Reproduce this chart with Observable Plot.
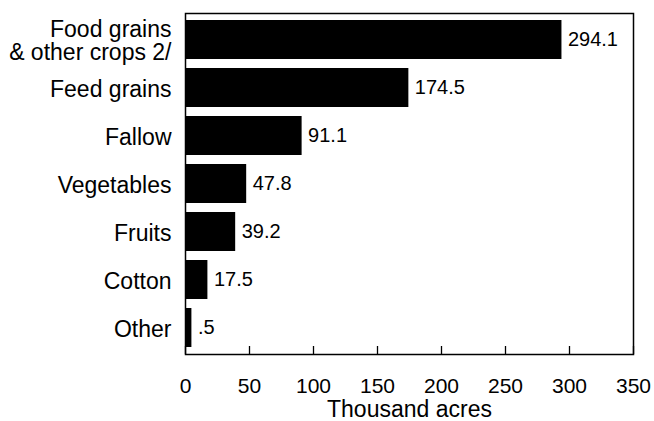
<!DOCTYPE html>
<html><head><meta charset="utf-8">
<script src="https://cdn.jsdelivr.net/npm/d3@7"></script>
<script src="https://cdn.jsdelivr.net/npm/@observablehq/plot@0.6"></script>
<style>body{margin:0;background:#fff} svg{display:block}</style>
</head><body><div id="chart"></div>
<script>
const categories = ["Food grains\n& other crops 2/", "Feed grains", "Fallow", "Vegetables", "Fruits", "Cotton", "Other"];
const values = [294.1, 174.5, 91.1, 47.8, 39.2, 17.5, 0.5];
const xTicks = [0, 50, 100, 150, 200, 250, 300, 350];
const xLabel = "Thousand acres";

const data = categories.map((c, i) => ({category: c, value: values[i]}));
const fmt = v => v < 1 ? String(v).replace(/^0/, "") : v.toFixed(1);
const minBar = 5; // tiny values still drawn as a visible sliver, as in the original

const W = 654, H = 421, mT = 13, mB = 67, mL = 185, mR = 21;
const plotH = H - mT - mB;

const chart = Plot.plot({
  width: W, height: H,
  marginLeft: mL, marginRight: mR, marginTop: mT, marginBottom: mB,
  style: {fontFamily: "'Liberation Sans', Arial, sans-serif", background: "white", color: "black", overflow: "hidden"},
  x: {domain: [0, 350], axis: null},
  y: {domain: categories, paddingInner: 0.18, paddingOuter: 0.09, axis: null},
  marks: [
    Plot.barX(data, {y: "category", x1: 0, x2: d => Math.max(d.value, minBar), fill: "black"}),
    Plot.text(data, {y: "category", x: d => Math.max(d.value, minBar), text: d => fmt(d.value), textAnchor: "start", dx: 6, fontSize: 20, fill: "black"}),
    Plot.text(categories, {y: d => d, text: d => d, frameAnchor: "left", textAnchor: "end", dx: -14, dy: 1, fontSize: 23, lineHeight: 1.02, fill: "black"}),
    Plot.ruleX(xTicks, {x: d => d, insetTop: plotH - 8, stroke: "black", strokeWidth: 1.3}),
    Plot.axisX(xTicks, {anchor: "bottom", tickSize: 0, tickPadding: 24, fontSize: 21, label: null}),
    Plot.text([xLabel], {frameAnchor: "bottom", lineAnchor: "middle", dy: 55, fontSize: 23, fill: "black"}),
    Plot.frame({stroke: "black", strokeWidth: 1.5})
  ]
});
document.getElementById("chart").appendChild(chart);
</script>
</body></html>
